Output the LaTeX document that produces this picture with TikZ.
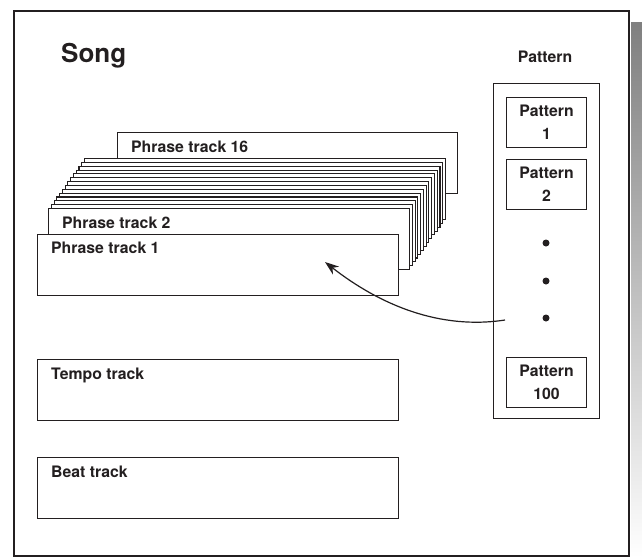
\documentclass[tikz,border=0pt]{standalone}
\usepackage{fontspec}
\setmainfont{TeX Gyre Heros}
\usetikzlibrary{arrows.meta}
\definecolor{ink}{HTML}{231F20}
\definecolor{shade}{HTML}{C8C8C8}

\begin{document}
\begin{tikzpicture}[x=1pt, y=-1pt,
  songframe/.style={draw=ink, line width=2.2pt},
  track/.style={draw=ink, fill=white, line width=1.1pt, anchor=north west,
                minimum width=361pt, minimum height=61pt, inner sep=0pt},
  lbl/.style={anchor=base west, inner sep=0pt, text=ink,
              font=\bfseries\fontsize{15.8}{23}\selectfont},
  pat/.style={draw=ink, line width=1.1pt, anchor=north west, align=center,
              minimum width=80pt, minimum height=50pt, inner sep=0pt, text=ink,
              font=\bfseries\fontsize{15.8}{23}\selectfont},
  patdot/.style={circle, fill=ink, inner sep=0pt, minimum size=7pt},
  arr/.style={-{Stealth[length=14pt, width=10pt]}, draw=ink, line width=1.2pt}
]
  \useasboundingbox (0,0) rectangle (642,558);
  % Frame with shadow
  \fill[shade] (631,22) rectangle (642,558);
  \draw[songframe, fill=white] (14,11) rectangle (629,556);
  \node[anchor=base west, inner sep=0pt, text=ink,
        font=\bfseries\fontsize{26}{30}\selectfont] (song) at (61,62) {Song};
  % Phrase tracks, back to front
  \node[track, minimum width=340pt] (t16) at (117,132) {};
  \node[lbl] (t16text) at ([shift={(14,20)}]t16.north west) {Phrase track 16};
  \foreach \i in {15,14,...,3} {
    \node[track] (sheet\i) at ({48+2.77*(\i-2)}, {208-3.85*(\i-2)}) {};
  }
  \node[track] (t2) at (48,208) {};
  \node[lbl] (t2text) at ([shift={(14,20)}]t2.north west) {Phrase track 2};
  \node[track] (t1) at (37,234) {};
  \node[lbl] (t1text) at ([shift={(14,19)}]t1.north west) {Phrase track 1};
  % Tempo and beat
  \node[track] (tempo) at (37,359) {};
  \node[lbl] (tempotext) at ([shift={(14,20)}]tempo.north west) {Tempo track};
  \node[track] (beat) at (37,457) {};
  \node[lbl] (beattext) at ([shift={(14,20)}]beat.north west) {Beat track};
  % Patterns
  \node[lbl, anchor=base] (pathead) at (545,62) {Pattern};
  \node[draw=ink, line width=1.1pt, anchor=north west, inner sep=0pt,
        minimum width=106pt, minimum height=335pt] (patbank) at (493,83) {};
  \node[pat] (p1) at (506,97) {Pattern\\1};
  \node[pat] (p2) at (506,159) {Pattern\\2};
  \node[patdot] (dot1) at (546,243) {};
  \node[patdot] (dot2) at (546,281) {};
  \node[patdot] (dot3) at (546,318) {};
  \node[pat] (p100) at (506,357) {Pattern\\100};
  % Pattern into phrase track
  \coordinate (armstart) at (505,320);
  \coordinate (armend) at (325,262);
  \draw[arr] (armstart) .. controls (440,330) and (380,305) .. (armend);
\end{tikzpicture}
\end{document}
